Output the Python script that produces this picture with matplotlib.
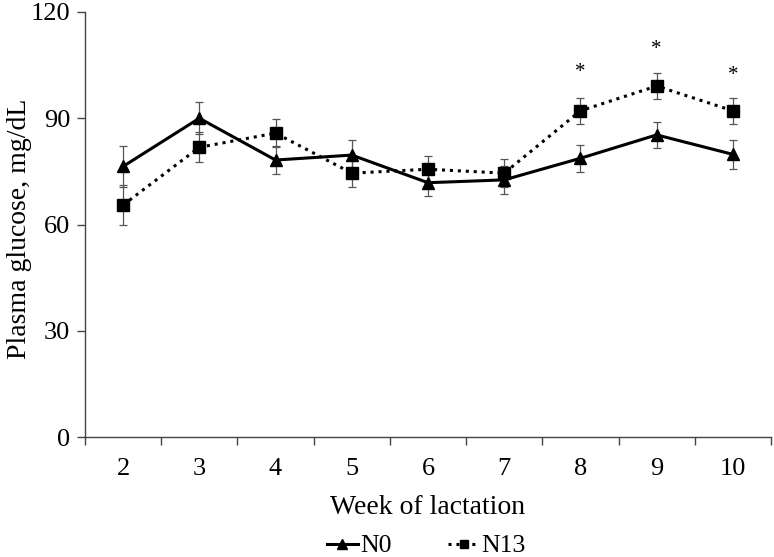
import matplotlib
matplotlib.use("Agg")
import matplotlib.pyplot as plt
import numpy as np

weeks = ["2", "3", "4", "5", "6", "7", "8", "9", "10"]
n0 = [76.4, 90.0, 78.2, 79.6, 71.8, 72.6, 78.7, 85.3, 79.8]
n0_se = [5.9, 4.5, 3.9, 4.3, 3.7, 4.0, 3.8, 3.7, 4.2]
n13 = [65.5, 81.8, 85.8, 74.5, 75.6, 74.5, 92.1, 99.1, 92.1]
n13_se = [5.6, 4.2, 3.9, 4.0, 3.8, 3.9, 3.7, 3.8, 3.7]
star_weeks = ["8", "9", "10"]
star_y = [103.0, 109.5, 102.0]
yticks = [0, 30, 60, 90, 120]

plt.rcParams['font.family'] = ['Liberation Serif', 'DejaVu Serif']

fig = plt.figure(figsize=(7.74, 5.57), dpi=100)
ax = fig.add_axes([85/774, 1 - 437/557, (771-85)/774, (437-12)/557])

x = np.arange(len(weeks))
ax.errorbar(x, n0, yerr=n0_se, fmt='none', ecolor='#555555', elinewidth=0.9,
            capsize=3, capthick=0.9, zorder=1)
ax.errorbar(x, n13, yerr=n13_se, fmt='none', ecolor='#555555', elinewidth=0.9,
            capsize=3, capthick=0.9, zorder=1)
ax.plot(x, n0, color='black', lw=2.2, marker='^', markersize=9, label='N0', zorder=3)
ax.plot(x, n13, color='black', lw=2.2, ls=(0, (1, 1.6)), marker='s', markersize=8,
        label='N13', zorder=3)

for w, yy in zip(star_weeks, star_y):
    ax.text(weeks.index(w), yy, '*', ha='center', va='center', fontsize=15)

ax.set_xlim(-0.5, len(weeks) - 0.5)
ax.set_ylim(0, 120)
ax.set_yticks(yticks)
ax.set_xticks(x)
ax.set_xticklabels(weeks)
ax.set_xticks(np.arange(-0.5, len(weeks), 1), minor=True)
ax.tick_params(axis='x', which='major', length=0, labelsize=19, pad=15)
ax.tick_params(axis='x', which='minor', length=5.5, width=1, color='#444444', direction='out')
ax.tick_params(axis='y', length=5.5, width=1, color='#444444', labelsize=19, pad=5)
for s in ['top', 'right']:
    ax.spines[s].set_visible(False)
for s in ['left', 'bottom']:
    ax.spines[s].set_color('#444444')
    ax.spines[s].set_linewidth(1)

fig.text((85 + 771) / 2 / 774, 1 - 514/557, 'Week of lactation', fontsize=20,
         ha='center', va='baseline')
fig.text(20/774, 1 - 229/557, 'Plasma glucose, mg/dL', fontsize=20, rotation=90,
         ha='center', va='center')

fig.legend(loc='center', bbox_to_anchor=(0.551, 1 - 546/557), ncol=2, frameon=False,
           fontsize=18.5, handlelength=1.2, columnspacing=2.2, handletextpad=0.1,
           markerscale=0.8, borderpad=0)

fig.savefig('out.png', dpi=100, facecolor='white')
